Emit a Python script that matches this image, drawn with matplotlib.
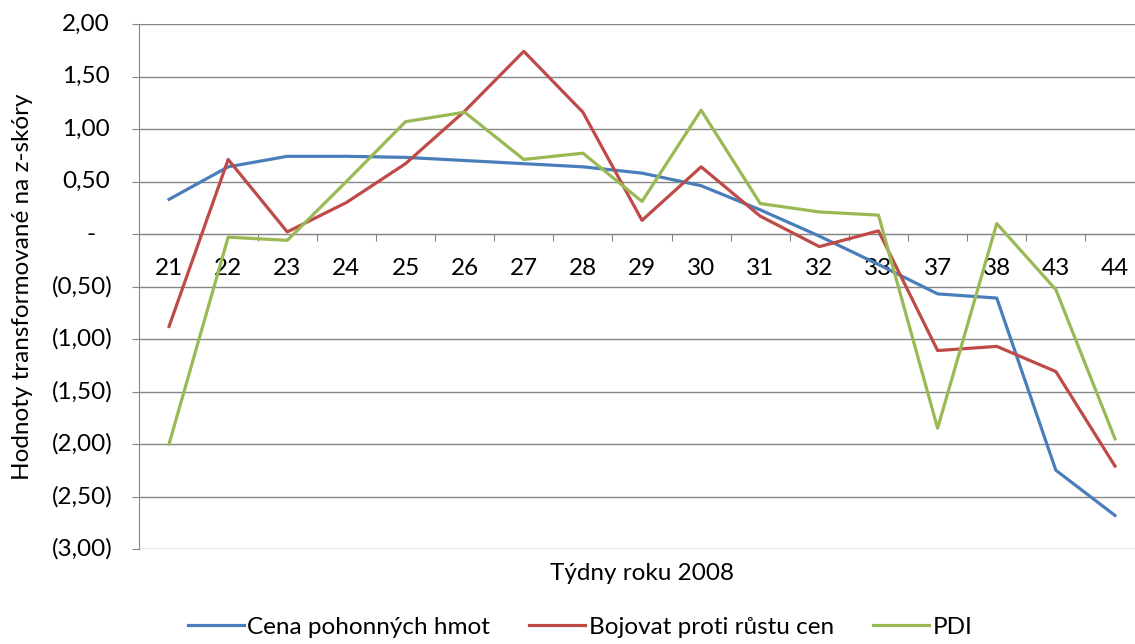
import numpy as np
import matplotlib
matplotlib.use('Agg')
import matplotlib.pyplot as plt
import matplotlib.transforms as mtransforms

plt.rcParams['font.family'] = ['Lato', 'DejaVu Sans']

weeks = ['21', '22', '23', '24', '25', '26', '27', '28', '29', '30',
         '31', '32', '33', '37', '38', '43', '44']
cena = [0.33, 0.64, 0.74, 0.74, 0.73, 0.70, 0.67, 0.64, 0.58, 0.46,
        0.23, -0.02, -0.29, -0.57, -0.61, -2.25, -2.68]
bojovat = [-0.88, 0.71, 0.02, 0.30, 0.67, 1.17, 1.74, 1.16, 0.13, 0.64,
           0.17, -0.12, 0.03, -1.11, -1.07, -1.31, -2.21]
pdi = [-2.00, -0.03, -0.06, 0.50, 1.07, 1.16, 0.71, 0.77, 0.31, 1.18,
       0.29, 0.21, 0.18, -1.85, 0.10, -0.53, -1.95]
series_names = ['Cena pohonných hmot', 'Bojovat proti růstu cen', 'PDI']
yticks = [2.0, 1.5, 1.0, 0.5, 0.0, -0.5, -1.0, -1.5, -2.0, -2.5, -3.0]

colors = ['#4A7EBB', '#BE4B48', '#98B954']
grid_c = '#868686'
fs = 17.5


def acc_fmt(v):
    # excel accounting style
    if abs(v) < 1e-9:
        return '-'
    s = '{:.2f}'.format(abs(v)).replace('.', ',')
    return '(' + s + ')' if v < 0 else s


fig = plt.figure(figsize=(11.35, 6.44), dpi=100)
ax = fig.add_axes([0.1229, 0.1475, 0.8855, 0.8152])

x = np.arange(len(weeks))
for vals, c, name in zip([cena, bojovat, pdi], colors, series_names):
    ax.plot(x, vals, color=c, lw=2.3, label=name, zorder=3)

ax.set_xlim(-0.5, len(weeks) - 0.5)
ax.set_ylim(-3, 2)
ax.set_yticks(yticks)
ax.yaxis.grid(True, color=grid_c, lw=1.0)
ax.set_axisbelow(True)
ax.tick_params(axis='y', length=5, color=grid_c, labelleft=False)

for s in ['top', 'right']:
    ax.spines[s].set_visible(False)
ax.spines['left'].set_color(grid_c)
ax.spines['bottom'].set_color(grid_c)
ax.spines['bottom'].set_position(('data', 0))

# category labels at centres, tick marks between categories
ax.set_xticks(np.arange(len(weeks) + 1) - 0.5)
ax.set_xticklabels([])
ax.set_xticks(x, minor=True)
ax.set_xticklabels(weeks, minor=True, fontsize=fs)
ax.tick_params(axis='x', which='major', length=5, color=grid_c)
ax.tick_params(axis='x', which='minor', length=0, pad=17)

# y labels in accounting format
trans = mtransforms.blended_transform_factory(ax.transAxes, ax.transData)
for v in yticks:
    lab = acc_fmt(v)
    if v < 0:
        off = 19
    elif v > 0:
        off = 21.5
    else:
        off = 32
    t = trans + mtransforms.ScaledTranslation(-off / 72, 0, fig.dpi_scale_trans)
    ax.text(0, v, lab, transform=t, ha='right', va='center', fontsize=fs)

fig.text(0.0194, 0.555, 'Hodnoty transformované na z-skóry', rotation=90,
         ha='center', va='center', fontsize=fs)
fig.text(0.5657, 0.1102, 'Týdny roku 2008', ha='center', va='center', fontsize=fs)

fig.legend(loc='center', bbox_to_anchor=(0.511, 0.026), ncol=3, frameon=False,
           fontsize=fs, handlelength=2.3, handletextpad=0.15, columnspacing=1.6,
           borderaxespad=0)

fig.savefig('out.png', dpi=100)
